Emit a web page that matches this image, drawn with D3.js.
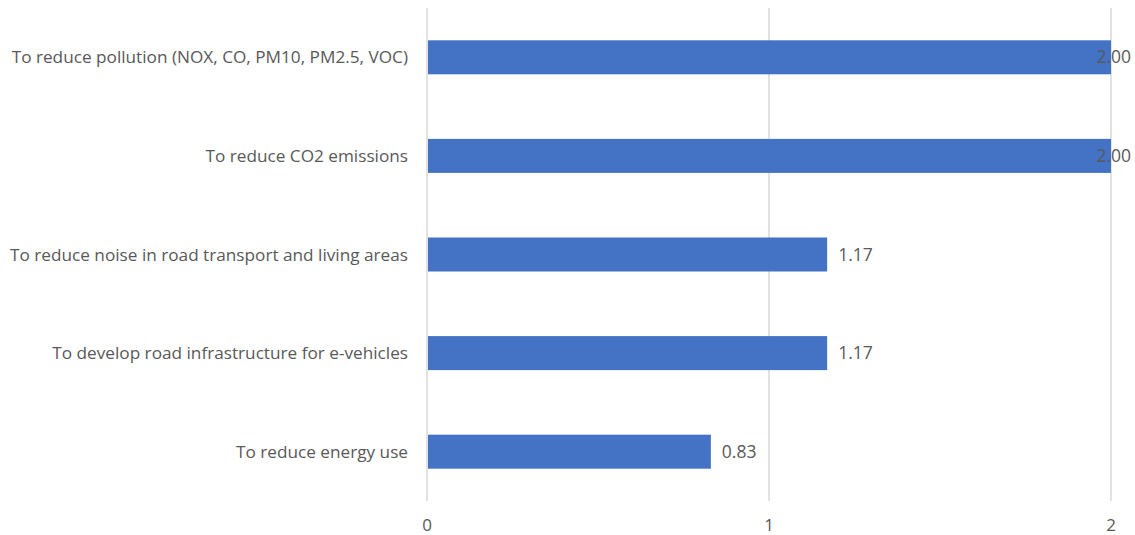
<!DOCTYPE html>
<html>
<head>
<meta charset="utf-8">
<script src="https://cdn.jsdelivr.net/npm/d3@7"></script>
<style>
  body { margin: 0; background: #fff; }
  text { font-family: "Open Sans", "Noto Sans", sans-serif; fill: #595959; }
</style>
</head>
<body>
<svg id="chart" width="1135" height="535"></svg>
<script>
const categories = [
    "To reduce pollution (NOX, CO, PM10, PM2.5, VOC)",
    "To reduce CO2 emissions",
    "To reduce noise in road transport and living areas",
    "To develop road infrastructure for e-vehicles",
    "To reduce energy use"
]
const values = [2.00, 2.00, 1.17, 1.17, 0.83]
const ticks = [0, 1, 2]

const margin = { top: 8, left: 427, right: 24, bottom: 34 },
    width = 1135 - margin.left - margin.right,
    height = 535 - margin.top - margin.bottom

const svg = d3.select("#chart")
const g = svg.append("g")
    .attr("transform", `translate(${margin.left},${margin.top})`)

const x = d3.scaleLinear().domain([0, 2]).range([0, width])
const y = d3.scaleBand().domain(categories).range([0, height])
    .paddingInner(0.655).paddingOuter(0.3275)

// vertical grid lines
g.selectAll(".grid")
    .data(ticks)
    .enter()
    .append("line")
    .attr("x1", d => x(d)).attr("x2", d => x(d))
    .attr("y1", 0).attr("y2", height)
    .attr("stroke", "#d9d9d9")
    .attr("stroke-width", 1.5)

// tick labels
g.selectAll(".tick-label")
    .data(ticks)
    .enter()
    .append("text")
    .attr("x", d => x(d))
    .attr("y", height + 24)
    .attr("dy", "0.35em")
    .attr("text-anchor", "middle")
    .attr("font-size", 17)
    .text(d => d)

const data = categories.map((c, i) => ({ cat: c, value: values[i] }))

g.selectAll(".bar")
    .data(data)
    .enter()
    .append("rect")
    .attr("x", x(0) + 1)
    .attr("y", d => y(d.cat))
    .attr("width", d => x(d.value) - x(0) - 1)
    .attr("height", y.bandwidth())
    .attr("fill", "#4472c4")

// category labels
g.selectAll(".cat-label")
    .data(data)
    .enter()
    .append("text")
    .attr("x", -19)
    .attr("y", d => y(d.cat) + y.bandwidth() / 2)
    .attr("dy", "0.35em")
    .attr("text-anchor", "end")
    .attr("font-size", 17.2)
    .text(d => d.cat)

// value labels, kept inside the chart like Excel does
const labels = g.selectAll(".val-label")
    .data(data)
    .enter()
    .append("text")
    .attr("y", d => y(d.cat) + y.bandwidth() / 2)
    .attr("dy", "0.35em")
    .attr("font-size", 17.5)
    .text(d => d.value.toFixed(2))

labels.each(function (d) {
    const w = this.getComputedTextLength()
    const pos = Math.min(x(d.value) + 11, width + margin.right - 4 - w)
    d3.select(this).attr("x", pos)
})
</script>
</body>
</html>
